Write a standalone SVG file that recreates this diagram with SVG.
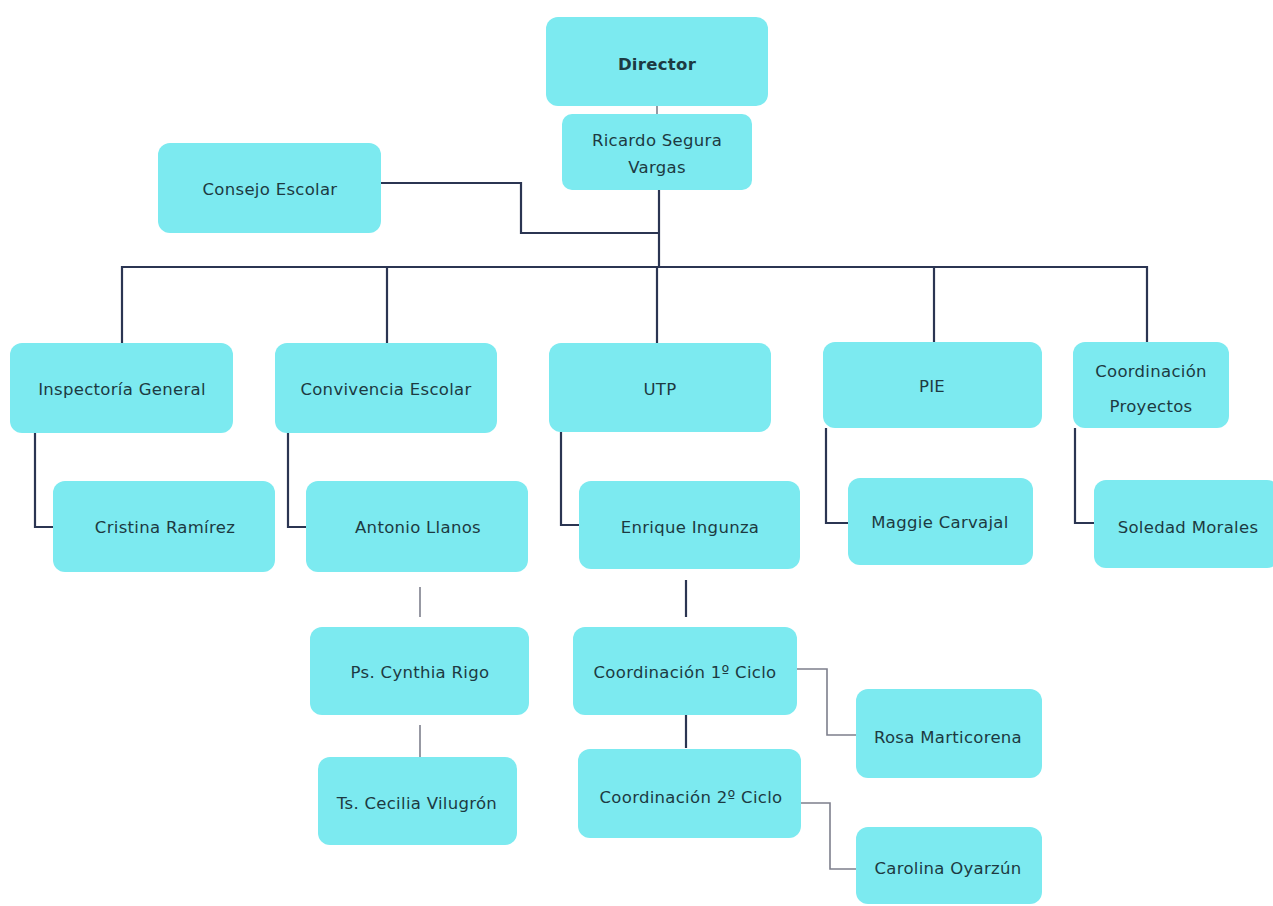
<svg xmlns="http://www.w3.org/2000/svg" width="1273" height="906" viewBox="0 0 1273 906">
<style>
.box{fill:#7ceaf0;}
.t{font-family:"DejaVu Sans","Liberation Sans",sans-serif;font-size:16.5px;letter-spacing:0.3px;fill:#1d3a42;text-anchor:middle;dominant-baseline:central;}
.b{font-weight:bold;}
.dk{fill:none;stroke:#2b3552;stroke-width:2.2;}
.lt{fill:none;stroke:#7d7f8c;stroke-width:1.6;}
</style>
<rect width="1273" height="906" fill="#ffffff"/>
<g id="connectors">
<path class="lt" d="M657 106 V114"/>
<path class="dk" d="M381 183 H521 V233 H659"/>
<path class="dk" d="M659 190 V268"/>
<path class="dk" d="M122 343 V267 H1147 V343"/>
<path class="dk" d="M387 267 V343"/>
<path class="dk" d="M657 267 V343"/>
<path class="dk" d="M934 267 V342"/>
<path class="dk" d="M35 433 V527 H55"/>
<path class="dk" d="M288 433 V527 H306"/>
<path class="dk" d="M561 432 V525 H580"/>
<path class="dk" d="M826 428 V523 H848"/>
<path class="dk" d="M1075 428 V523 H1094"/>
<path class="lt" d="M420 587 V617"/>
<path class="lt" d="M420 725 V758"/>
<path class="dk" d="M686 580 V617"/>
<path class="dk" d="M686 715 V748"/>
<path class="lt" d="M797 669 H827 V735 H856"/>
<path class="lt" d="M801 803 H830 V869 H856"/>
</g>
<g id="n-director"><rect class="box" x="546" y="17" width="222" height="89" rx="12"/><text class="t b" x="657" y="64">Director</text></g>
<g id="n-ricardo"><rect class="box" x="562" y="114" width="190" height="76" rx="10"/><text class="t" x="657" y="140">Ricardo Segura</text><text class="t" x="657" y="167">Vargas</text></g>
<g id="n-consejo"><rect class="box" x="158" y="143" width="223" height="90" rx="12"/><text class="t" x="270" y="189">Consejo Escolar</text></g>
<g id="n-inspectoria"><rect class="box" x="10" y="343" width="223" height="90" rx="12"/><text class="t" x="122" y="389">Inspectoría General</text></g>
<g id="n-convivencia"><rect class="box" x="275" y="343" width="222" height="90" rx="12"/><text class="t" x="386" y="389">Convivencia Escolar</text></g>
<g id="n-utp"><rect class="box" x="549" y="343" width="222" height="89" rx="12"/><text class="t" x="660" y="389">UTP</text></g>
<g id="n-pie"><rect class="box" x="823" y="342" width="219" height="86" rx="12"/><text class="t" x="932" y="386">PIE</text></g>
<g id="n-coordproy"><rect class="box" x="1073" y="342" width="156" height="86" rx="12"/><text class="t" x="1151" y="371">Coordinación</text><text class="t" x="1151" y="406">Proyectos</text></g>
<g id="n-cristina"><rect class="box" x="53" y="481" width="222" height="91" rx="12"/><text class="t" x="165" y="527">Cristina Ramírez</text></g>
<g id="n-antonio"><rect class="box" x="306" y="481" width="222" height="91" rx="12"/><text class="t" x="418" y="527">Antonio Llanos</text></g>
<g id="n-enrique"><rect class="box" x="579" y="481" width="221" height="88" rx="12"/><text class="t" x="690" y="527">Enrique Ingunza</text></g>
<g id="n-maggie"><rect class="box" x="848" y="478" width="185" height="87" rx="12"/><text class="t" x="940" y="522">Maggie Carvajal</text></g>
<g id="n-soledad"><rect class="box" x="1094" y="480" width="185" height="88" rx="12"/><text class="t" x="1188" y="527">Soledad Morales</text></g>
<g id="n-cynthia"><rect class="box" x="310" y="627" width="219" height="88" rx="12"/><text class="t" x="420" y="672">Ps. Cynthia Rigo</text></g>
<g id="n-cecilia"><rect class="box" x="318" y="757" width="199" height="88" rx="12"/><text class="t" x="417" y="803">Ts. Cecilia Vilugrón</text></g>
<g id="n-coord1"><rect class="box" x="573" y="627" width="224" height="88" rx="12"/><text class="t" x="685" y="672">Coordinación 1º Ciclo</text></g>
<g id="n-coord2"><rect class="box" x="578" y="749" width="223" height="89" rx="12"/><text class="t" x="691" y="797">Coordinación 2º Ciclo</text></g>
<g id="n-rosa"><rect class="box" x="856" y="689" width="186" height="89" rx="12"/><text class="t" x="948" y="737">Rosa Marticorena</text></g>
<g id="n-carolina"><rect class="box" x="856" y="827" width="186" height="77" rx="12"/><text class="t" x="948" y="868">Carolina Oyarzún</text></g>
</svg>
